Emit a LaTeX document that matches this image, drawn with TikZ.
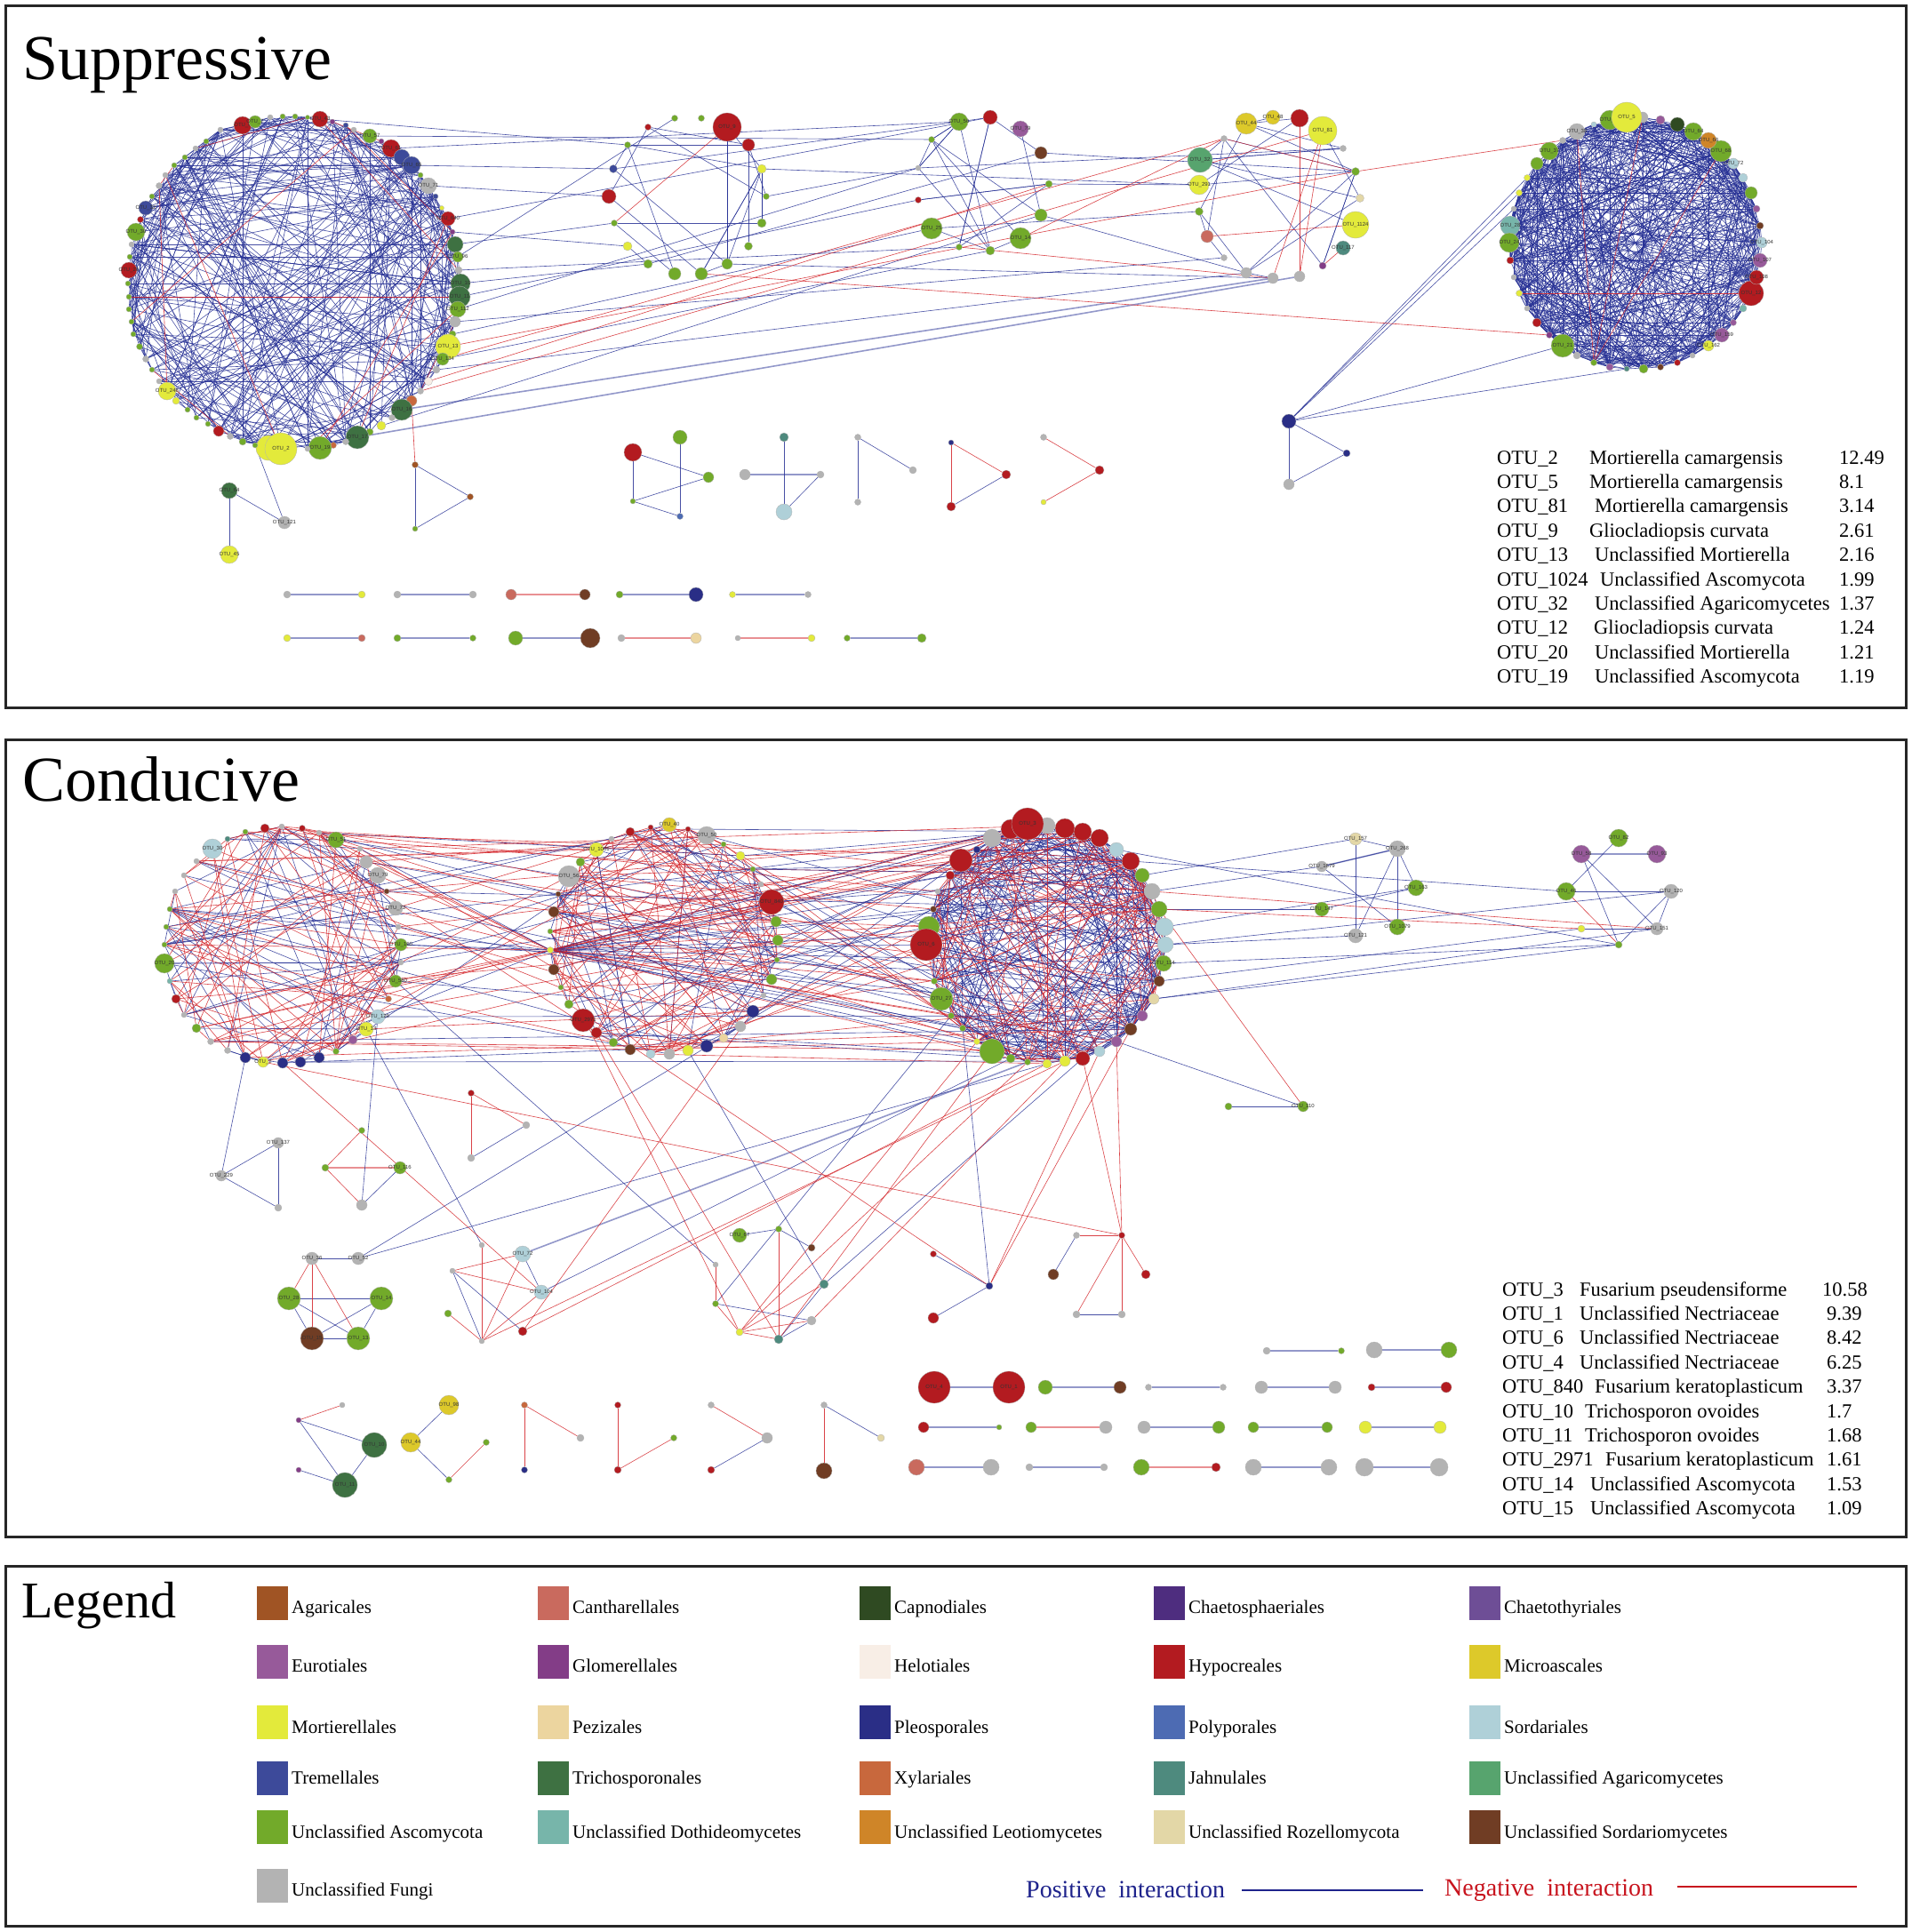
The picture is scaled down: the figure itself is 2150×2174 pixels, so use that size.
\documentclass[tikz,border=0pt]{standalone}
\usepackage{fontspec}
\setmainfont{Liberation Serif}
\newfontfamily\lblfont{Liberation Sans}
\pgfdeclarelayer{bg}
\pgfdeclarelayer{edges}
\pgfsetlayers{bg,edges,main}
\definecolor{aga}{RGB}{160,84,36}
\definecolor{can}{RGB}{201,106,94}
\definecolor{cap}{RGB}{47,74,34}
\definecolor{chs}{RGB}{78,45,127}
\definecolor{cht}{RGB}{110,78,150}
\definecolor{eur}{RGB}{151,90,154}
\definecolor{glo}{RGB}{131,61,135}
\definecolor{hel}{RGB}{248,238,230}
\definecolor{hyp}{RGB}{179,27,32}
\definecolor{mic}{RGB}{221,201,42}
\definecolor{mor}{RGB}{227,234,59}
\definecolor{pez}{RGB}{236,213,159}
\definecolor{ple}{RGB}{42,46,134}
\definecolor{pol}{RGB}{77,107,179}
\definecolor{sor}{RGB}{175,208,216}
\definecolor{tre}{RGB}{61,74,154}
\definecolor{tri}{RGB}{62,113,66}
\definecolor{xyl}{RGB}{200,104,61}
\definecolor{jah}{RGB}{78,138,126}
\definecolor{uag}{RGB}{87,164,110}
\definecolor{asc}{RGB}{114,170,42}
\definecolor{udo}{RGB}{119,181,170}
\definecolor{ule}{RGB}{207,133,40}
\definecolor{roz}{RGB}{227,215,167}
\definecolor{uso}{RGB}{112,61,36}
\definecolor{fun}{RGB}{179,179,179}
\definecolor{posc}{RGB}{40,50,150}
\definecolor{negc}{RGB}{212,35,40}
\definecolor{postxt}{RGB}{30,35,140}
\definecolor{negtxt}{RGB}{200,20,30}
\tikzset{
  nd/.style={circle,draw=black!30,line width=0.3pt,inner sep=0pt,minimum size=#1},
  lbl/.style={font=\lblfont\fontsize{6}{6}\selectfont,text=black!80,inner sep=0pt},
  epos/.style={draw=posc,line width=0.6pt,opacity=0.85},
  eneg/.style={draw=negc,line width=0.6pt,opacity=0.85},
  eposw/.style={draw=posc,line width=1.6pt,opacity=0.5},
  enegw/.style={draw=negc,line width=1.6pt,opacity=0.5},
  frame/.style={draw=black!85,line width=3pt},
  ttl/.style={anchor=base west,inner sep=0pt,font=\fontsize{72}{72}\selectfont},
  tbl/.style={anchor=base west,inner sep=0pt,font=\fontsize{22.5}{27}\selectfont},
  legt/.style={anchor=base west,inner sep=0pt,font=\fontsize{21}{24}\selectfont},
  sw/.style={draw=none,minimum width=35pt,minimum height=38pt,inner sep=0pt,anchor=north west}
}
\newcommand\net[2]{\foreach \xx/\yy/\dd/\cc/\lb [count=\i] in {#2}{%
  \node[nd=\dd,fill=\cc,label={[lbl]center:\lb}] (#1-\i) at (\xx,\yy) {};\xdef\lastn{\i}}}
\newcommand\randedges[5]{\pgfmathsetseed{#5}%
  \foreach \k in {1,...,#3}{%
    \pgfmathrandominteger{\ea}{1}{#2}%
    \pgfmathrandominteger{\eb}{1}{#2}%
    \ifnum\ea=\eb\relax\else\draw[#4] (#1-\ea) -- (#1-\eb);\fi}}
\newcommand\crossedges[7]{\pgfmathsetseed{#7}%
  \foreach \k in {1,...,#5}{%
    \pgfmathrandominteger{\ea}{1}{#2}%
    \pgfmathrandominteger{\eb}{1}{#4}%
    \draw[#6] (#1-\ea) -- (#3-\eb);}}
\newcommand\edgelist[2]{\foreach \ea/\eb in {#2}{\draw[#1] (\ea) -- (\eb);}}
\newcommand\pairn[9]{%
  \node[nd=#5,fill=#6] (#1a) at (#2,#4) {};
  \node[nd=#7,fill=#8] (#1b) at (#3,#4) {};
  \begin{pgfonlayer}{edges}\draw[#9] (#1a) -- (#1b);\end{pgfonlayer}}
\begin{document}
\begin{tikzpicture}[x=1pt,y=-1pt]
\useasboundingbox (0,0) rectangle (2150,2174);
\begin{pgfonlayer}{bg}
\fill[white] (0,0) rectangle (2150,2174);
\end{pgfonlayer}
% frames
\draw[frame] (6,6) rectangle (2144,796);
\draw[frame] (6,832) rectangle (2144,1729);
\draw[frame] (6,1762) rectangle (2144,2167);
\node[ttl] (tsup) at (25,89) {Suppressive};
\node[ttl] (tcon) at (25,901) {Conducive};
\node[anchor=base west,inner sep=0pt,font=\fontsize{58}{58}\selectfont] (tleg) at (24,1820) {Legend};

% ================= SUPPRESSIVE =================
\net{S1}{273/141/20/hyp/OTU\_6,287/137/14/asc/OTU\_7,304/132/6/fun/{},318/131/6/asc/{},332/131/6/asc/{},346/132/5/asc/{},360/134/18/hyp/OTU\_43,374/137/6/glo/{},389/141/6/tre/{},398/146/6/fun/{},416/153/16/asc/OTU\_57,429/159/6/glo/{},440/167/20/hyp/OTU\_61,452/177/18/tre/{},463/186/20/tre/OTU\_65,473/197/6/asc/{},482/209/18/fun/OTU\_71,490/221/6/tre/{},497/234/5/mor/{},504/246/16/hyp/OTU\_640,509/261/6/glo/{},512/275/18/tri/{},515/289/12/asc/OTU\_96,516/304/8/fun/{},518/319/22/tri/OTU\_10,517/334/24/tri/OTU\_11,515/348/18/asc/OTU\_112,512/362/12/fun/{},509/376/8/asc/{},504/390/28/mor/OTU\_13,498/404/14/asc/OTU\_134,491/416/8/fun/{},482/429/9/hel/{},473/440/7/fun/{},463/451/12/xyl/{},452/461/24/tri/OTU\_16,441/470/7/fun/{},429/479/10/mor/{},416/486/8/asc/{},402/492/26/tri/OTU\_17,389/497/7/fun/{},375/501/7/xyl/{},360/504/26/asc/OTU\_19,346/505/6/fun/{},302/504/28/mor/{},316/505/36/mor/OTU\_2,287/501/6/asc/{},273/497/8/asc/{},259/491/7/fun/{},246/485/12/hyp/{},234/477/6/asc/{},221/470/6/asc/{},211/461/6/asc/{},198/451/8/mor/{},188/440/20/mor/OTU\_248,179/429/6/fun/{},171/416/6/asc/{},164/404/7/fun/{},157/390/7/asc/{},150/376/6/asc/{},148/362/6/asc/{},145/348/6/asc/{},145/334/6/asc/{},144/319/6/asc/{},145/304/18/hyp/OTU\_26,146/289/6/asc/{},148/275/6/fun/{},153/261/20/asc/OTU\_30,158/247/7/hyp/{},164/234/16/tre/OTU\_32,171/221/6/asc/{},179/209/7/fun/{},186/197/6/fun/{},196/186/6/asc/{},208/177/6/asc/{},220/167/6/fun/{},232/159/6/asc/{},248/146/6/fun/{}}
\let\nSa\lastn
\net{S2}{759/133/7/asc/{},789/133/7/asc/{},818/143/32/hyp/OTU\_9,842/163/14/hyp/{},857/190/10/mor/{},862/221/7/asc/{},857/251/10/asc/{},842/277/9/asc/{},818/297/12/asc/{},789/308/14/asc/{},759/308/14/asc/{},729/297/10/asc/{},706/277/10/mor/{},691/251/7/asc/{},685/221/16/hyp/{},690/190/9/tre/{},706/163/7/asc/{},729/143/7/hyp/{}}
\let\nSb\lastn
\net{S3}{1079/137/20/asc/OTU\_56,1114/132/16/hyp/{},1148/145/18/eur/OTU\_79,1171/172/14/uso/{},1180/207/8/asc/{},1171/242/14/asc/{},1148/268/24/asc/OTU\_14,1114/282/10/asc/{},1079/278/7/asc/{},1048/257/24/asc/OTU\_25,1033/225/7/hyp/{},1033/189/6/fun/{},1048/157/7/asc/{}}
\let\nSc\lastn
\net{S4}{1402/139/24/mic/OTU\_44,1432/132/16/mic/OTU\_48,1462/133/20/hyp/{},1488/147/32/mor/OTU\_81,1511/167/7/fun/{},1525/193/9/asc/{},1530/223/9/roz/{},1525/253/30/mor/OTU\_1124,1511/279/16/jah/OTU\_117,1488/299/8/glo/{},1462/311/12/fun/{},1432/313/12/fun/{},1402/307/12/fun/{},1377/290/7/fun/{},1358/266/14/can/{},1349/238/9/asc/{},1349/208/22/mor/OTU\_291,1350/180/28/uag/OTU\_32,1377/156/7/fun/{}}
\let\nSd\lastn
\net{S5}{1743/170/20/asc/OTU\_37,1729/184/14/asc/{},1718/200/7/mor/{},1709/217/7/mor/{},1703/235/6/fun/{},1699/254/22/udo/OTU\_28,1698/273/22/asc/OTU\_24,1699/293/8/hyp/{},1703/312/6/fun/{},1709/330/7/mor/{},1718/347/6/fun/{},1729/363/10/hyp/{},1743/377/7/glo/{},1758/389/26/asc/OTU\_21,1774/400/8/fun/{},1793/408/7/asc/{},1811/413/8/eur/{},1830/415/6/jah/{},1849/415/10/asc/{},1868/413/7/uso/{},1887/408/7/hyp/{},1904/400/6/fun/{},1922/389/12/mor/OTU\_162,1937/377/16/eur/OTU\_159,1950/363/7/eur/{},1961/347/8/udo/{},1970/330/28/hyp/OTU\_12,1976/312/16/hyp/OTU\_108,1980/293/16/eur/OTU\_107,1982/273/12/sor/OTU\_104,1980/254/8/uso/{},1976/235/8/eur/{},1970/217/14/asc/{},1961/200/10/sor/{},1950/184/12/sor/OTU\_72,1936/170/24/asc/OTU\_68,1922/158/18/ule/OTU\_66,1905/148/20/asc/OTU\_64,1887/140/16/cap/{},1868/135/10/eur/{},1848/132/12/fun/{},1793/140/6/sor/{},1774/148/18/fun/OTU\_38,1758/158/7/fun/{},1811/135/22/asc/OTU\_47,1830/132/34/mor/OTU\_5}
\let\nSe\lastn
\net{T1}{258/552/18/tri/OTU\_64,320/588/14/fun/OTU\_121,258/624/20/mor/OTU\_45}
\net{T2}{467/523/7/aga/{},529/559/7/aga/{},467/595/6/asc/{}}
\net{T3}{712/509/20/hyp/{},765/492/16/asc/{},797/537/12/asc/{},712/564/6/asc/{},765/581/7/pol/{}}
\net{T4}{882/492/10/jah/{},838/534/12/fun/{},923/534/8/fun/{},882/576/18/sor/{}}
\net{T5}{965/492/7/fun/{},1027/529/8/fun/{},965/565/7/fun/{}}
\net{T6}{1070/498/6/ple/{},1132/534/10/hyp/{},1070/570/10/hyp/{}}
\net{T7}{1174/492/7/fun/{},1237/529/10/hyp/{},1174/565/6/mor/{}}
\net{H}{1450/474/16/ple/{},1515/510/8/ple/{},1450/545/12/fun/{}}
\pairn{sp1}{323}{407}{669}{8}{fun}{8}{mor}{eposw}
\pairn{sp2}{447}{532}{669}{8}{fun}{8}{fun}{eposw}
\pairn{sp3}{575}{658}{669}{12}{can}{12}{uso}{enegw}
\pairn{sp4}{697}{783}{669}{8}{asc}{16}{ple}{eposw}
\pairn{sp5}{824}{909}{669}{7}{mor}{7}{fun}{eposw}
\pairn{sq1}{323}{407}{718}{8}{mor}{8}{can}{eposw}
\pairn{sq2}{447}{532}{718}{8}{asc}{7}{asc}{eposw}
\pairn{sq3}{580}{664}{718}{16}{asc}{22}{uso}{eposw}
\pairn{sq4}{699}{783}{718}{8}{fun}{12}{pez}{enegw}
\pairn{sq5}{830}{913}{718}{6}{fun}{8}{mor}{enegw}
\pairn{sq6}{953}{1037}{718}{7}{asc}{10}{asc}{eposw}

\begin{pgfonlayer}{edges}
\randedges{S1}{\nSa}{340}{epos}{11}
\randedges{S1}{\nSa}{14}{eneg}{12}
\randedges{S2}{\nSb}{26}{epos}{13}
\draw[eneg] (S2-3) -- (S2-14);
\randedges{S3}{\nSc}{20}{epos}{14}
\randedges{S4}{\nSd}{24}{epos}{15}
\edgelist{eneg}{S4-3/S4-11,S4-4/S4-12,S4-4/S4-11,S4-15/S4-8,S4-19/S4-6,S4-9/S4-10}
\randedges{S5}{\nSe}{580}{epos}{16}
\edgelist{eneg}{S5-43/S5-16,S5-16/S5-41,S5-10/S5-27,S5-36/S5-16}
% long suppressive edges
\edgelist{epos}{S1-15/S2-16,S1-17/S2-15,S1-22/S2-14,S1-25/S2-12,S1-26/S3-11,S1-27/S3-12,S1-29/S3-10,S1-13/S3-1,S1-11/S3-13,S1-7/S2-17,S1-28/S4-14,S1-32/S4-13,S1-38/S3-6,S1-23/S2-1,S1-20/S3-2,S1-24/S3-9,S1-21/S2-13,S1-31/S3-8,S2-16/S3-1,S2-5/S4-17,S2-9/S4-12,S2-6/S3-12,S2-12/S3-4,S3-5/S4-17,S3-6/S4-13,S3-12/S4-5,S3-4/S4-6,S3-10/S4-16,S1-47/T1-2,T1-1/T1-2,T1-1/T1-3,H-1/S5-3,H-1/S5-4,H-1/S5-5,H-1/S5-14,H-1/S5-18,H-1/H-2,H-1/H-3,H-2/H-3}
\edgelist{eposw}{S1-36/S4-12,S1-40/S4-11}
\edgelist{eneg}{S1-30/S4-6,S1-34/S4-4,S1-33/S3-5,S1-31/S4-19,S3-7/S4-19,S3-9/S4-12,S2-10/S5-13,S4-6/S5-44,S1-35/T2-1}
\edgelist{epos}{T2-1/T2-2,T2-2/T2-3,T2-1/T2-3,T3-1/T3-3,T3-1/T3-4,T3-2/T3-5,T3-3/T3-4,T3-4/T3-5,T4-1/T4-4,T4-3/T4-4,T5-1/T5-3,T5-1/T5-2,T6-2/T6-3}
\edgelist{eposw}{T4-2/T4-3}
\edgelist{eneg}{T6-1/T6-3,T6-1/T6-2,T7-1/T7-2,T7-2/T7-3}
\end{pgfonlayer}

% tables
\foreach \o/\sx/\sp/\v [count=\i] in {OTU\_2/1788/Mortierella camargensis/12.49,OTU\_5/1788/Mortierella camargensis/8.1,OTU\_81/1794/Mortierella camargensis/3.14,OTU\_9/1788/Gliocladiopsis curvata/2.61,OTU\_13/1794/Unclassified Mortierella/2.16,OTU\_1024/1800/Unclassified Ascomycota/1.99,OTU\_32/1794/Unclassified Agaricomycetes/1.37,OTU\_12/1793/Gliocladiopsis curvata/1.24,OTU\_20/1794/Unclassified Mortierella/1.21,OTU\_19/1794/Unclassified Ascomycota/1.19}{%
  \pgfmathsetmacro\ty{522+(\i-1)*27.4}
  \node[tbl] (sa\i) at (1684,\ty) {\o};
  \node[tbl] (sb\i) at (\sx,\ty) {\sp};
  \node[tbl] (sc\i) at (2069,\ty) {\v};}

% ================= CONDUCIVE =================
\net{C1}{276/936/6/asc/{},298/932/10/hyp/{},317/930/6/fun/{},340/932/7/hyp/{},359/937/6/fun/{},378/945/18/asc/OTU\_51,405/955/6/fun/{},412/970/14/fun/{},425/985/18/fun/OTU\_79,435/1003/6/uso/{},445/1022/16/fun/OTU\_72,448/1043/6/fun/{},451/1063/14/asc/OTU\_160,451/1083/6/fun/{},445/1104/14/asc/OTU\_580,437/1124/7/xyl/{},425/1144/16/sor/OTU\_129,412/1158/16/mor/OTU\_13,397/1170/10/eur/{},378/1183/7/asc/{},359/1190/12/ple/{},338/1195/12/ple/{},318/1196/12/ple/{},296/1195/12/mor/OTU\_2,276/1190/12/ple/{},256/1182/7/fun/{},237/1172/7/fun/{},221/1157/10/asc/{},207/1142/6/fun/{},198/1124/10/hyp/{},191/1104/6/udo/{},185/1084/22/asc/OTU\_20,185/1063/6/asc/{},187/1043/6/asc/{},191/1023/6/asc/{},197/1003/6/fun/{},207/985/6/fun/{},221/969/6/fun/{},239/955/22/sor/OTU\_30,256/944/6/jah/{}}
\let\nCa\lastn
\net{C2}{709/936/10/hyp/{},732/931/6/hyp/{},753/928/16/mic/OTU\_40,774/933/6/hyp/{},795/940/20/fun/OTU\_50,814/950/6/asc/{},833/963/10/mor/{},847/978/6/asc/{},856/995/6/fun/{},868/1015/28/hyp/OTU\_840,873/1037/12/asc/{},875/1058/12/asc/{},874/1080/6/asc/{},868/1102/12/asc/{},859/1120/6/fun/{},847/1138/14/ple/{},833/1155/12/fun/{},814/1168/10/pez/{},795/1177/14/ple/{},774/1182/12/mor/{},753/1186/12/fun/{},732/1186/10/sor/{},709/1181/12/uso/{},690/1173/10/asc/{},671/1162/12/hyp/{},656/1148/26/hyp/OTU\_2971,640/1130/10/asc/{},631/1111/6/asc/{},623/1091/12/uso/{},619/1069/7/mor/{},619/1048/6/asc/{},623/1026/12/uso/{},628/1006/6/uso/{},640/986/24/fun/OTU\_56,653/970/10/asc/{},671/956/16/mor/OTU\_1001,688/944/6/fun/{}}
\let\nCb\lastn
\net{C3}{1116/943/20/fun/{},1137/933/22/hyp/{},1178/929/18/fun/{},1198/932/22/hyp/{},1218/936/20/hyp/{},1237/943/20/hyp/{},1256/956/16/sor/{},1272/969/20/hyp/{},1285/985/16/asc/{},1296/1003/18/fun/{},1304/1023/18/asc/{},1310/1043/20/sor/{},1311/1063/18/sor/{},1309/1084/18/asc/OTU\_114,1304/1104/12/uso/{},1298/1124/12/roz/{},1285/1143/12/eur/{},1272/1158/14/uso/{},1256/1172/12/eur/{},1237/1183/12/sor/{},1218/1191/16/hyp/{},1198/1194/12/mor/{},1178/1197/10/mor/{},1156/1195/7/asc/{},1137/1191/10/asc/{},1116/1183/28/asc/{},1099/1172/7/mor/{},1083/1157/7/asc/{},1070/1143/7/asc/{},1059/1124/26/asc/OTU\_27,1051/1104/7/asc/{},1045/1043/24/asc/{},1042/1063/36/hyp/OTU\_6,1050/1023/7/uso/{},1055/1003/6/fun/{},1069/985/10/hyp/{},1081/968/26/hyp/{},1099/956/8/ple/{},1156/927/36/hyp/OTU\_3}
\let\nCc\lastn
\net{R}{1525/944/14/roz/OTU\_157,1572/955/18/fun/OTU\_268,1487/975/12/fun/OTU\_1679,1593/999/18/asc/OTU\_163,1487/1023/16/asc/OTU\_147,1572/1043/18/asc/OTU\_1079,1525/1053/16/fun/OTU\_121,1779/961/20/eur/OTU\_58,1821/943/20/asc/OTU\_82,1864/961/20/eur/OTU\_93,1762/1003/20/asc/OTU\_46,1880/1003/16/fun/OTU\_120,1779/1045/8/mor/{},1864/1045/14/fun/OTU\_151,1821/1063/8/asc/{},1382/1245/8/asc/{},1466/1245/12/asc/OTU\_110}
\net{L1}{313/1286/12/fun/OTU\_137,249/1323/12/fun/OTU\_229,313/1359/8/fun/{}}
\net{L2}{407/1272/7/asc/{},366/1314/8/asc/{},450/1314/14/asc/OTU\_116,407/1356/12/fun/{}}
\net{L3}{530/1230/7/hyp/{},592/1266/8/fun/{},530/1303/8/fun/{}}
\net{L4}{351/1416/14/fun/OTU\_36,403/1416/14/fun/OTU\_52,325/1461/26/asc/OTU\_28,429/1461/26/asc/OTU\_14,351/1506/26/uso/OTU\_15,403/1506/26/asc/OTU\_13}
\net{L5}{542/1401/6/fun/{},588/1411/18/sor/OTU\_72,509/1430/6/fun/{},609/1454/16/sor/OTU\_104,504/1478/8/asc/{},588/1498/10/hyp/{},542/1509/6/fun/{}}
\net{L6}{832/1390/16/asc/OTU\_67,876/1383/7/asc/{},913/1404/8/uso/{},805/1423/6/fun/{},927/1445/10/jah/{},805/1467/7/asc/{},913/1486/10/fun/{},832/1499/8/mor/{},876/1507/10/jah/{}}
\net{L7}{1050/1411/7/hyp/{},1113/1447/8/ple/{},1050/1483/12/hyp/{}}
\net{L8}{1211/1390/7/fun/{},1262/1390/7/hyp/{},1185/1434/12/uso/{},1289/1434/10/hyp/{},1211/1479/8/fun/{},1262/1479/8/fun/{}}
\net{B1}{336/1598/6/glo/{},385/1581/6/fun/{},421/1626/28/tri/OTU\_10,336/1654/6/glo/{},388/1671/28/tri/OTU\_11}
\net{B2}{505/1581/22/mic/OTU\_98,462/1623/22/mic/OTU\_44,547/1623/7/asc/{},505/1665/7/asc/{}}
\net{B3}{590/1581/7/xyl/{},653/1618/8/fun/{},590/1654/7/ple/{}}
\net{B4}{695/1581/7/hyp/{},758/1618/7/asc/{},695/1654/8/hyp/{}}
\net{B5}{800/1581/7/fun/{},863/1618/12/fun/{},800/1654/8/hyp/{}}
\net{B6}{927/1581/7/fun/{},991/1618/8/roz/{},927/1655/18/uso/{}}
\pairn{ca1}{1425}{1509}{1520}{8}{fun}{7}{asc}{eposw}
\pairn{ca2}{1546}{1630}{1519}{18}{fun}{18}{asc}{eposw}
\pairn{cb1}{1051}{1135}{1561}{36}{hyp}{36}{hyp}{eposw}
\node[lbl] (lo4) at (cb1a) {OTU\_4};
\node[lbl] (lo1) at (cb1b) {OTU\_1};
\pairn{cb2}{1176}{1260}{1561}{16}{asc}{14}{uso}{eposw}
\pairn{cb3}{1292}{1376}{1561}{7}{fun}{7}{fun}{eposw}
\pairn{cb4}{1419}{1502}{1561}{14}{fun}{14}{fun}{eposw}
\pairn{cb5}{1543}{1627}{1561}{8}{hyp}{12}{hyp}{eposw}
\pairn{cc1}{1039}{1124}{1606}{12}{hyp}{6}{asc}{eposw}
\pairn{cc2}{1160}{1244}{1606}{12}{asc}{14}{fun}{enegw}
\pairn{cc3}{1287}{1371}{1606}{14}{fun}{14}{asc}{eposw}
\pairn{cc4}{1410}{1493}{1606}{12}{asc}{12}{asc}{eposw}
\pairn{cc5}{1536}{1620}{1606}{14}{mor}{14}{mor}{eposw}
\pairn{cd1}{1031}{1115}{1651}{18}{can}{18}{fun}{eposw}
\pairn{cd2}{1158}{1242}{1651}{8}{fun}{8}{fun}{eposw}
\pairn{cd3}{1284}{1368}{1651}{18}{asc}{10}{hyp}{enegw}
\pairn{cd4}{1410}{1495}{1651}{18}{fun}{18}{fun}{eposw}
\pairn{cd5}{1535}{1619}{1651}{20}{fun}{20}{fun}{eposw}

\begin{pgfonlayer}{edges}
\randedges{C1}{\nCa}{60}{epos}{21}
\randedges{C1}{\nCa}{60}{eneg}{22}
\randedges{C2}{\nCb}{45}{epos}{23}
\randedges{C2}{\nCb}{65}{eneg}{24}
\randedges{C3}{\nCc}{250}{epos}{25}
\randedges{C3}{\nCc}{95}{eneg}{26}
\crossedges{C1}{\nCa}{C2}{\nCb}{20}{eneg}{27}
\crossedges{C1}{\nCa}{C2}{\nCb}{12}{epos}{28}
\crossedges{C2}{\nCb}{C3}{\nCc}{26}{eneg}{29}
\crossedges{C2}{\nCb}{C3}{\nCc}{26}{epos}{30}
\crossedges{C1}{\nCa}{C3}{\nCc}{12}{eneg}{31}
\crossedges{C1}{\nCa}{C3}{\nCc}{10}{epos}{32}
\foreach \t in {3,8,12,17,22,26,30,33,36,39,14,20}{\draw[epos] (C2-30) -- (C3-\t);}
\foreach \t in {2,6,11,19,25,31,37,29}{\draw[eneg] (C2-30) -- (C3-\t);}
\foreach \t in {4,9,15,27,33,38}{\draw[eneg] (C2-30) -- (C1-\t);}
\foreach \t in {7,13,24,35}{\draw[epos] (C2-30) -- (C1-\t);}
% C4 right component
\edgelist{epos}{R-1/R-2,R-1/R-7,R-2/R-3,R-2/R-4,R-2/R-6,R-2/R-7,R-3/R-6,R-4/R-5,R-9/R-11,R-8/R-15,R-8/R-14,R-12/R-14,R-12/R-15,R-13/R-14,R-11/R-12,R-16/R-17}
\edgelist{eposw}{R-8/R-10,R-2/R-3}
\edgelist{eneg}{R-11/R-15}
\edgelist{epos}{C3-10/R-3,C3-11/R-5,C3-12/R-4,C3-13/R-12,C3-14/R-15,C3-15/R-13,C3-16/R-14,C3-13/R-7,C3-8/R-11,C3-7/R-15,C3-19/R-17,C3-16/R-15,C3-9/R-1}
\edgelist{eneg}{C3-10/R-14,C3-11/R-13,C3-11/R-17}
% lower components
\edgelist{epos}{L1-1/L1-2,L1-2/L1-3,L1-1/L1-3,L2-3/L2-4,L3-2/L3-3,L4-1/L4-2,L4-3/L4-4,L4-3/L4-5,L4-3/L4-6,L4-4/L4-5,L4-4/L4-6,L4-5/L4-6,L5-3/L5-7,L5-3/L5-6,L5-2/L5-4,L6-1/L6-2,L6-2/L6-3,L6-6/L6-7,L6-5/L6-9,L6-7/L6-9,L7-1/L7-2,L7-2/L7-3,L8-1/L8-3,L8-5/L8-6}
\edgelist{eneg}{L2-1/L2-2,L2-2/L2-4,L3-1/L3-2,L3-1/L3-3,L4-1/L4-3,L4-1/L4-5,L4-1/L4-6,L5-1/L5-7,L5-3/L5-2,L5-3/L5-4,L5-2/L5-7,L5-5/L5-7,L5-4/L5-7,L6-2/L6-9,L6-4/L6-6,L6-6/L6-8,L6-8/L6-9,L6-8/L6-7,L6-5/L6-8,L8-1/L8-2,L8-2/L8-4,L8-2/L8-5,L8-2/L8-6}
\edgelist{enegw}{L2-2/L2-3}
\edgelist{epos}{B1-1/B1-3,B1-1/B1-5,B1-3/B1-5,B1-4/B1-5,B2-1/B2-2,B2-2/B2-4,B5-2/B5-3,B6-1/B6-2}
\edgelist{eneg}{B1-1/B1-2,B2-3/B2-4,B3-1/B3-3,B3-1/B3-2,B4-1/B4-3,B4-3/B4-2,B5-1/B5-2,B6-1/B6-3}
% long conducive edges to lower components
\edgelist{epos}{C1-18/L5-1,C1-17/L2-4,C1-25/L1-2,C1-15/L6-4,L4-2/C2-17,C3-25/L5-4,C3-23/L4-2,C3-21/L6-5,C3-28/L7-2,C2-20/L6-5,C3-29/L6-6}
\edgelist{eposw}{C3-24/L5-2}
\edgelist{eneg}{C1-24/L8-2,C1-23/L5-4,C3-26/L6-9,C3-22/L6-7,C3-27/L6-8,C3-20/L7-2,C3-21/L8-2,C3-19/L8-2,C3-23/L5-6,C3-24/L6-8,C3-22/L5-7,C2-30/L6-8,C2-25/L6-9,C2-27/L7-2,C2-16/L5-6,C3-18/L7-2}
\end{pgfonlayer}

\foreach \o/\sx/\sp/\nx/\v [count=\i] in {OTU\_3/1777/Fusarium pseudensiforme/2050/10.58,OTU\_1/1777/Unclassified Nectriaceae/2055/9.39,OTU\_6/1777/Unclassified Nectriaceae/2055/8.42,OTU\_4/1777/Unclassified Nectriaceae/2055/6.25,OTU\_840/1794/Fusarium keratoplasticum/2055/3.37,OTU\_10/1783/Trichosporon ovoides/2055/1.7,OTU\_11/1783/Trichosporon ovoides/2055/1.68,OTU\_2971/1806/Fusarium keratoplasticum/2055/1.61,OTU\_14/1789/Unclassified Ascomycota/2055/1.53,OTU\_15/1789/Unclassified Ascomycota/2055/1.09}{%
  \pgfmathsetmacro\ty{1458+(\i-1)*27.4}
  \node[tbl] (ca\i) at (1690,\ty) {\o};
  \node[tbl] (cb\i) at (\sx,\ty) {\sp};
  \node[tbl] (cc\i) at (\nx,\ty) {\v};}

% ================= LEGEND =================
\foreach \nm/\cl/\col/\row [count=\i] in {Agaricales/aga/1/1,Cantharellales/can/2/1,Capnodiales/cap/3/1,Chaetosphaeriales/chs/4/1,Chaetothyriales/cht/5/1,Eurotiales/eur/1/2,Glomerellales/glo/2/2,Helotiales/hel/3/2,Hypocreales/hyp/4/2,Microascales/mic/5/2,Mortierellales/mor/1/3,Pezizales/pez/2/3,Pleosporales/ple/3/3,Polyporales/pol/4/3,Sordariales/sor/5/3,Tremellales/tre/1/4,Trichosporonales/tri/2/4,Xylariales/xyl/3/4,Jahnulales/jah/4/4,Unclassified Agaricomycetes/uag/5/4,Unclassified Ascomycota/asc/1/5,Unclassified Dothideomycetes/udo/2/5,Unclassified Leotiomycetes/ule/3/5,Unclassified Rozellomycota/roz/4/5,Unclassified Sordariomycetes/uso/5/5,Unclassified Fungi/fun/1/6}{%
  \pgfmathsetmacro\lx{{289,605,967,1298,1653}[\col-1]}
  \pgfmathsetmacro\ly{{1785,1851,1919,1982,2037,2103}[\row-1]}
  \pgfmathsetmacro\lb{{1815,1881,1950,2007,2068,2133}[\row-1]}
  \node[sw,fill=\cl] (sw\i) at (\lx,\ly) {};
  \node[legt] (lt\i) at (\lx+39,\lb) {\nm};}
\node[anchor=base west,inner sep=0pt,font=\fontsize{28}{30}\selectfont,text=postxt] (posl) at (1154,2135) {Positive\ \ interaction};
\coordinate (pa) at (1397,2127);
\coordinate (pb) at (1601,2127);
\draw[draw=postxt,line width=2.5pt] (pa) -- (pb);
\node[anchor=base west,inner sep=0pt,font=\fontsize{28}{30}\selectfont,text=negtxt] (negl) at (1625,2133) {Negative\ \ interaction};
\coordinate (na) at (1887,2123);
\coordinate (nb) at (2089,2123);
\draw[draw=negtxt,line width=2.5pt] (na) -- (nb);
\end{tikzpicture}
\end{document}
